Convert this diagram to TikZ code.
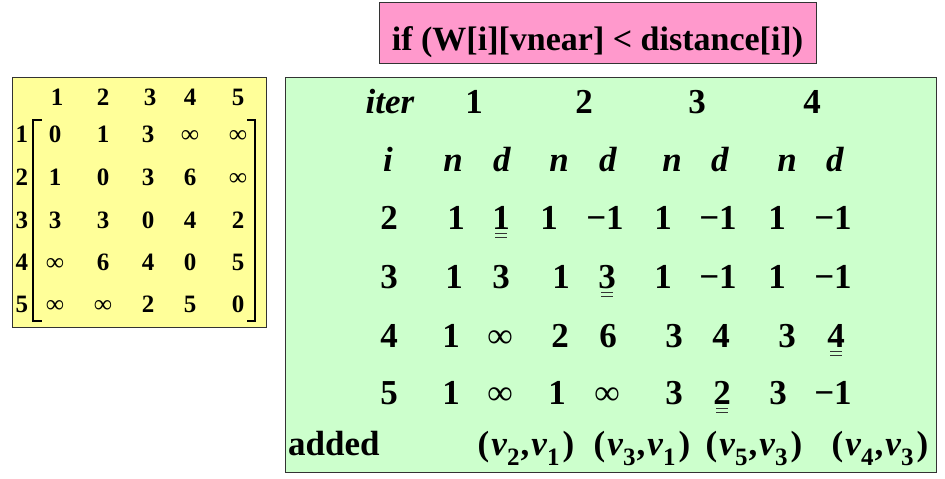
\documentclass[tikz,border=0pt]{standalone}
\usepackage{fontspec}
\setmainfont{Liberation Serif}
\definecolor{condpink}{HTML}{FF99CC}
\definecolor{tabgreen}{HTML}{CCFFCC}
\definecolor{matyellow}{HTML}{FFFF99}
\newcommand{\vx}[1]{\textit{v}\raisebox{-.3em}{\fontsize{25}{25}\selectfont #1}}
\newcommand{\vpair}[2]{(\kern2pt\vx{#1}\kern1pt,\kern2pt\vx{#2}\kern3pt)}
\newcommand{\dul}[1]{\draw[dbl] ([xshift=3pt,yshift=-4pt]#1.base west) -- ([xshift=-3pt,yshift=-4pt]#1.base east)
  ([xshift=3pt,yshift=-8pt]#1.base west) -- ([xshift=-3pt,yshift=-8pt]#1.base east);}
\begin{document}
\begin{tikzpicture}[x=1pt,y=-1pt,
    cell/.style={anchor=base,inner sep=0pt,font=\fontsize{35}{40}\selectfont\bfseries},
    mcell/.style={anchor=base,inner sep=0pt,font=\fontsize{25}{30}\selectfont\bfseries},
    dbl/.style={black!80,line width=0.8pt},
    frame/.style={draw=black!80,line width=1pt}]
    \useasboundingbox (0,0) rectangle (945,479);

    % condition
    \node[frame,fill=condpink,inner sep=0pt,minimum width=437pt,text height=48pt,text depth=13pt,
          font=\fontsize{34}{40}\selectfont\bfseries] (cond) at (597.5,32.5) {if (W[i][vnear] < distance[i])};

    % matrix W
    \draw[frame,fill=matyellow] (12,77) rectangle (266,327);
    \foreach \x/\t [count=\c] in {57/1,103/2,150/3,190/4,238/5}
        \node[mcell] (top\c) at (\x,105) {\t};
    \foreach \y/\a/\b/\d/\e/\f [count=\r] in {142/0/1/3/∞/∞,185/1/0/3/6/∞,228/3/3/0/4/2,270/∞/6/4/0/5,312/∞/∞/2/5/0}{
        \node[mcell] (lab\r) at (22,\y) {\r};
        \node[mcell] (w\r1) at (55,\y) {\a};
        \node[mcell] (w\r2) at (103,\y) {\b};
        \node[mcell] (w\r3) at (148,\y) {\d};
        \node[mcell] (w\r4) at (190,\y) {\e};
        \node[mcell] (w\r5) at (238,\y) {\f};
    }
    \draw[line width=2pt] (42,120) -- (33,120) -- (33,321) -- (42,321);
    \draw[line width=2pt] (247,120) -- (255,120) -- (255,321) -- (247,321);

    % table of iterations
    \draw[frame,fill=tabgreen] (285,77) rectangle (936,472);
    \node[cell] (iter) at (390,113) {\textit{iter}};
    \foreach \x/\t in {474/1,584/2,697/3,812/4}
        \node[cell] (it\t) at (\x,113) {\t};
    \foreach \x/\t [count=\c] in {388/i,453/n,502/d,559/n,608/d,672/n,720/d,787/n,835/d}
        \node[cell] (h\c) at (\x,171) {\textit{\t}};
    \foreach \x/\t [count=\c] in {389/2,456/1,501/1,549/1,605/−1,663/1,718/−1,777/1,833/−1}
        \node[cell] (a\c) at (\x,229) {\t};
    \foreach \x/\t [count=\c] in {389/3,454/1,501/3,561/1,607/3,663/1,718/−1,777/1,833/−1}
        \node[cell] (b\c) at (\x,288) {\t};
    \foreach \x/\t [count=\c] in {389/4,451/1,500/∞,560/2,608/6,674/3,721/4,787/3,836/4}
        \node[cell] (c\c) at (\x,347) {\t};
    \foreach \x/\t [count=\c] in {389/5,451/1,500/∞,557/1,607/∞,674/3,722/2,778/3,833/−1}
        \node[cell] (e\c) at (\x,404) {\t};
    \dul{a3} \dul{b5} \dul{c9} \dul{e7}

    \node[cell,anchor=base west] (added) at (288,455) {added};
    \node[cell] (p1) at (526,455) {\vpair{2}{1}};
    \node[cell] (p2) at (642,455) {\vpair{3}{1}};
    \node[cell] (p3) at (754,455) {\vpair{5}{3}};
    \node[cell] (p4) at (880,455) {\vpair{4}{3}};
\end{tikzpicture}
\end{document}
